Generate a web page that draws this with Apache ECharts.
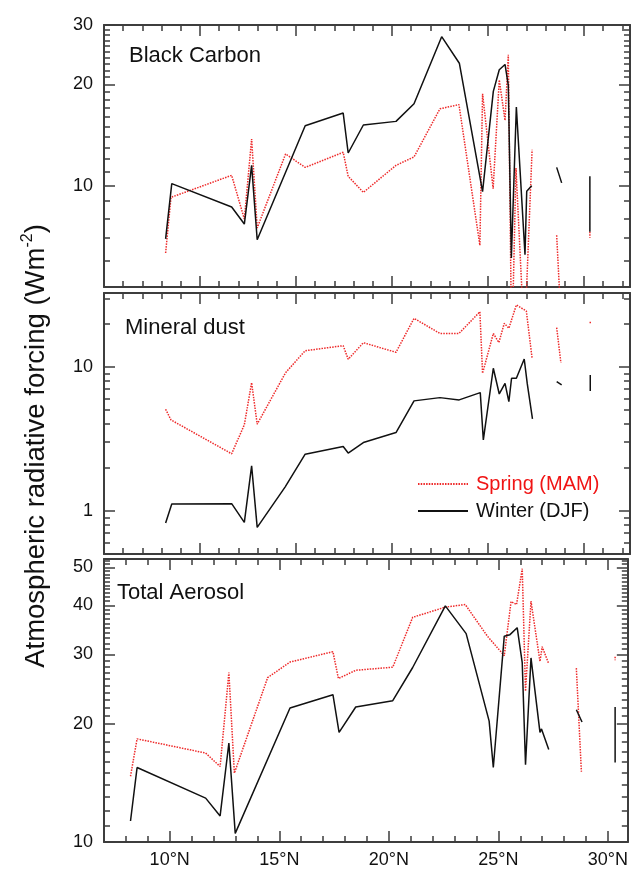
<!DOCTYPE html>
<html>
<head>
<meta charset="utf-8">
<script src="https://cdn.jsdelivr.net/npm/echarts@6/dist/echarts.min.js"></script>
<style>
  html, body { margin: 0; padding: 0; background: #fff; }
  #chart { width: 631px; height: 870px; }
</style>
</head>
<body>
<div id="chart"></div>
<script>
// Atmospheric radiative forcing (W m^-2) along the cruise track, by latitude (°N).
// null in a latitude list marks a break in the track.

// Black carbon
const bcWinterLat = [8.21, 8.53, 11.65, 12.31, 12.69, 12.98, 15.48, 17.46, 17.72, 18.51, 20.21, 21.15, 22.59, 23.51, 24.72, 25.28, 25.59, 25.89, 26.06, 26.22, 26.48, 26.93, 27.02, 27.28, null, 28.58, 28.84, null, 30.31, 30.31];
const bcWinterVal = [6.95, 10.14, 8.64, 7.69, 11.49, 6.91, 15.07, 16.43, 12.50, 15.14, 15.52, 17.51, 27.7, 23.1, 9.60, 19.05, 22.1, 22.9, 19.9, 6.10, 17.12, 6.24, 9.62, 10.0, null, 11.33, 10.19, null, 10.66, 7.29];
const bcSpringLat = [8.21, 8.49, 11.65, 12.31, 12.69, 12.98, 14.46, 15.48, 17.46, 17.72, 18.51, 20.21, 21.15, 22.5, 23.49, 24.58, 24.72, 25.27, 25.59, 25.89, 26.06, 26.24, 26.46, 26.9, 27.3, null, 28.58, 28.84, null, 30.31, 30.31];
const bcSpringVal = [6.31, 9.23, 10.73, 7.96, 13.76, 7.49, 12.42, 11.33, 12.56, 10.66, 9.55, 11.49, 12.17, 16.92, 17.4, 6.65, 18.75, 9.80, 20.6, 15.62, 24.47, 3.13, 11.28, 3.42, 12.78, null, 7.12, 3.64, null, 7.3, 7.0];

// Mineral dust
const duWinterLat = [8.21, 8.53, 11.65, 12.31, 12.69, 12.98, 14.43, 15.48, 17.46, 17.72, 18.51, 20.21, 21.15, 22.5, 23.5, 24.6, 24.76, 25.28, 25.59, 25.89, 26.09, 26.23, 26.48, 26.89, 27.05, 27.32, null, 28.58, 28.84, null, 30.33, 30.33];
const duWinterVal = [0.821, 1.113, 1.12, 0.83, 2.05, 0.766, 1.46, 2.475, 2.80, 2.52, 2.98, 3.50, 5.81, 6.12, 5.90, 6.63, 3.11, 9.80, 6.49, 7.70, 5.74, 8.35, 8.35, 11.36, 7.62, 4.35, null, 7.90, 7.50, null, 8.80, 6.81];
const duSpringLat = [8.21, 8.49, 11.65, 12.31, 12.69, 12.98, 14.46, 15.48, 17.46, 17.72, 18.51, 20.21, 21.15, 22.5, 23.49, 24.58, 24.72, 25.28, 25.57, 25.85, 26.09, 26.48, 27.0, 27.3, null, 28.58, 28.8, null, 30.33, 30.33];
const duSpringVal = [5.08, 4.28, 2.49, 3.96, 7.78, 4.00, 9.13, 12.97, 14.06, 11.31, 14.75, 12.65, 21.8, 17.1, 17.1, 24.2, 9.04, 17.1, 14.8, 20.1, 18.6, 27.0, 24.5, 11.5, null, 18.8, 10.7, null, 20.6, 20.0];

// Total aerosol
const taWinterLat = [8.21, 8.51, 11.64, 12.30, 12.70, 12.99, 15.49, 17.45, 17.73, 18.49, 20.18, 21.09, 22.58, 23.53, 24.58, 24.77, 25.27, 25.53, 25.86, 26.09, 26.24, 26.49, 26.9, 26.97, 27.3, null, 28.56, 28.82, null, 30.33, 30.33];
const taWinterVal = [11.31, 15.47, 12.93, 11.65, 17.86, 10.52, 21.93, 23.71, 19.0, 22.06, 22.89, 27.8, 39.9, 33.9, 20.3, 15.47, 33.4, 33.7, 35.1, 28.6, 15.72, 29.4, 19.0, 19.4, 17.2, null, 21.7, 20.2, null, 22.06, 15.93];
const taSpringLat = [8.21, 8.51, 11.64, 12.30, 12.70, 12.95, 14.47, 15.49, 17.45, 17.7, 18.49, 20.18, 21.09, 22.58, 23.49, 24.5, 25.27, 25.58, 25.83, 26.09, 26.24, 26.49, 26.9, 27.0, 27.3, null, 28.56, 28.79, null, 30.33, 30.33];
const taSpringVal = [14.7, 18.3, 16.84, 15.56, 27.0, 14.97, 26.2, 28.7, 30.5, 26.06, 27.35, 27.85, 37.3, 39.6, 40.2, 33.4, 29.8, 40.9, 40.2, 49.6, 24.2, 41.0, 28.8, 31.4, 28.4, null, 27.7, 15.1, null, 29.6, 29.0];

// Axis ticks
const latMajorUpper = [10, 15, 20, 25, 30];
const latMinorUpper = [6, 7, 8, 9, 11, 12, 13, 14, 16, 17, 18, 19, 21, 22, 23, 24, 26, 27, 28, 29, 31, 32];
const latMajorLower = [10, 15, 20, 25, 30];
const latMinorLower = [8, 9, 11, 12, 13, 14, 16, 17, 18, 19, 21, 22, 23, 24, 26, 27, 28, 29];
const bcMajor = [10, 20, 30];
const bcMinor = [6, 7, 8, 9, 11, 12, 13, 14, 15, 16, 17, 18, 19, 21, 22, 23, 24, 25, 26, 27, 28, 29];
const duMajor = [1, 10];
const duMinor = [0.6, 0.7, 0.8, 0.9, 2, 3, 4, 5, 6, 7, 8, 9, 20, 30];
const taMajor = [10, 20, 30, 40, 50];
const taMinor = [11, 12, 13, 14, 15, 16, 17, 18, 19, 21, 22, 23, 24, 25, 26, 27, 28, 29, 31, 32, 33, 34, 35, 36, 37, 38, 39, 41, 42, 43, 44, 45, 46, 47, 48, 49, 51, 52];

const panelTitles = ['Black Carbon', 'Mineral dust', 'Total Aerosol'];
const springName = 'Spring (MAM)';
const winterName = 'Winter (DJF)';

const FONT = 'Liberation Sans';
const AX = '#3d3d3d';
const RED = '#ee2a2a';
const BLACK = '#111111';

function pairs(lat, val) {
  return lat.map((x, i) => (x == null || val[i] == null) ? ['-', '-'] : [x, val[i]]);
}

function xAxisSet(g, min, max, major, minor, labels) {
  const out = [];
  ['bottom', 'top'].forEach(pos => {
    out.push({
      type: 'value', gridIndex: g, position: pos, min: min, max: max,
      splitLine: { show: false },
      axisLine: { show: true, onZero: false, lineStyle: { color: AX, width: 2 } },
      axisTick: { show: true, inside: true, length: 11, customValues: major, lineStyle: { color: AX, width: 1.5 } },
      axisLabel: {
        show: labels && pos === 'bottom', customValues: major,
        formatter: v => v + '°N', margin: 9,
        fontFamily: FONT, fontSize: 18, color: '#111'
      }
    });
    out.push({
      type: 'value', gridIndex: g, position: pos, min: min, max: max,
      splitLine: { show: false },
      axisLine: { show: false, onZero: false },
      axisTick: { show: true, inside: true, length: 6, customValues: minor, lineStyle: { color: AX, width: 1.5 } },
      axisLabel: { show: false }
    });
  });
  return out;
}

function yAxisSet(g, min, max, major, minor) {
  const out = [];
  ['left', 'right'].forEach(pos => {
    out.push({
      type: 'log', logBase: 10, gridIndex: g, position: pos, min: min, max: max,
      splitLine: { show: false },
      axisLine: { show: true, onZero: false, lineStyle: { color: AX, width: 2 } },
      axisTick: { show: true, inside: true, length: 11, customValues: major, lineStyle: { color: AX, width: 1.5 } },
      axisLabel: {
        show: pos === 'left', customValues: major,
        formatter: v => String(v), margin: 11,
        fontFamily: FONT, fontSize: 18, color: '#111'
      }
    });
    out.push({
      type: 'log', logBase: 10, gridIndex: g, position: pos, min: min, max: max,
      splitLine: { show: false },
      axisLine: { show: false, onZero: false },
      axisTick: { show: true, inside: true, length: 6, customValues: minor, lineStyle: { color: AX, width: 1.5 } },
      axisLabel: { show: false }
    });
  });
  return out;
}

function lineSeries(name, g, data, isSpring) {
  return {
    type: 'line', name: name,
    xAxisIndex: g * 4, yAxisIndex: g * 4,
    data: data, symbol: 'none', connectNulls: false, clip: true,
    animation: false, z: isSpring ? 2 : 3,
    lineStyle: isSpring
      ? { color: RED, width: 1.5, type: [1.5, 1.2] }
      : { color: BLACK, width: 1.5 },
    itemStyle: { color: isSpring ? RED : BLACK }
  };
}

const chart = echarts.init(document.getElementById('chart'), null, { renderer: 'canvas' });

const option = {
  animation: false,
  backgroundColor: '#ffffff',
  grid: [
    { left: 104, top: 25, width: 526, height: 262 },
    { left: 104, top: 293, width: 526, height: 261 },
    { left: 104, top: 559, width: 526, height: 283 }
  ],
  xAxis: [].concat(
    xAxisSet(0, 5, 32.4, latMajorUpper, latMinorUpper, false),
    xAxisSet(1, 5, 32.4, latMajorUpper, latMinorUpper, false),
    xAxisSet(2, 7, 30.91, latMajorLower, latMinorLower, true)
  ),
  yAxis: [].concat(
    yAxisSet(0, 5, 30, bcMajor, bcMinor),
    yAxisSet(1, 0.5, 32.7, duMajor, duMinor),
    yAxisSet(2, 10, 52.5, taMajor, taMinor)
  ),
  title: [
    { text: panelTitles[0], left: 129, top: 45, padding: 0, textStyle: { fontFamily: FONT, fontSize: 22, fontWeight: 'normal', color: '#111', lineHeight: 22 } },
    { text: panelTitles[1], left: 125, top: 317, padding: 0, textStyle: { fontFamily: FONT, fontSize: 22, fontWeight: 'normal', color: '#111', lineHeight: 22 } },
    { text: panelTitles[2], left: 117, top: 582, padding: 0, textStyle: { fontFamily: FONT, fontSize: 22, fontWeight: 'normal', color: '#111', lineHeight: 22 } }
  ],
  legend: {
    orient: 'vertical', left: 417, top: 474, padding: 0,
    itemWidth: 50, itemHeight: 14, itemGap: 7,
    selectedMode: false,
    // legend keys show only the line sample
    itemStyle: { opacity: 0, color: 'rgba(0,0,0,0)', borderColor: 'rgba(0,0,0,0)', borderWidth: 0 },
    textStyle: { fontFamily: FONT, fontSize: 20, lineHeight: 20, padding: [0, 0, 0, 3] },
    data: [
      { name: springName, textStyle: { color: '#f01414' } },
      { name: winterName, textStyle: { color: '#111' } }
    ]
  },
  graphic: [{
    type: 'text', x: 34, y: 446, rotation: Math.PI / 2,
    style: {
      text: '{a|Atmospheric radiative forcing (Wm}{s|-2}{a|)}',
      align: 'center', verticalAlign: 'middle',
      rich: {
        a: { fontFamily: FONT, fontSize: 27.5, lineHeight: 32, fill: '#111', verticalAlign: 'bottom' },
        s: { fontFamily: FONT, fontSize: 16, lineHeight: 32, fill: '#111', verticalAlign: 'top', padding: [2, 0, 0, 0] }
      }
    }
  }],
  series: [
    lineSeries(springName, 0, pairs(bcSpringLat, bcSpringVal), true),
    lineSeries(winterName, 0, pairs(bcWinterLat, bcWinterVal), false),
    lineSeries(springName, 1, pairs(duSpringLat, duSpringVal), true),
    lineSeries(winterName, 1, pairs(duWinterLat, duWinterVal), false),
    lineSeries(springName, 2, pairs(taSpringLat, taSpringVal), true),
    lineSeries(winterName, 2, pairs(taWinterLat, taWinterVal), false)
  ]
};

chart.setOption(option);
</script>
</body>
</html>
